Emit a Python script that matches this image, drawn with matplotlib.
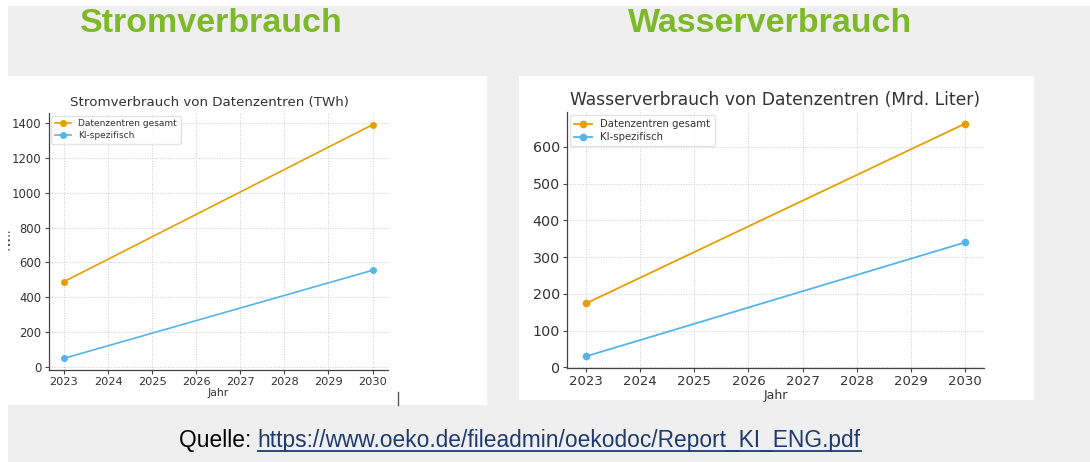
import matplotlib
matplotlib.use("Agg")
import matplotlib.pyplot as plt
from matplotlib.patches import Rectangle
from matplotlib.lines import Line2D
from matplotlib.transforms import Bbox, TransformedBbox

# - - - - data - - - -
years = [2023, 2030]
strom_gesamt = [490, 1390]
strom_ki = [50, 555]
wasser_gesamt = [174, 663]
wasser_ki = [30, 340]

series_labels = ["Datenzentren gesamt", "KI-spezifisch"]
colors = ["#E69F00", "#56B4E9"]

W, H = 1090, 462
fig = plt.figure(figsize=(W / 100, H / 100), dpi=100)
fig.patch.set_facecolor("white")

def box(x0, y0, x1, y1):
    # pixel box (top-left origin) -> figure fraction [l, b, w, h]
    return [x0 / W, 1 - y1 / H, (x1 - x0) / W, (y1 - y0) / H]

def add_rect(x0, y0, x1, y1, color):
    l, b, w, h = box(x0, y0, x1, y1)
    fig.patches.append(Rectangle((l, b), w, h, transform=fig.transFigure,
                                 facecolor=color, edgecolor="none", zorder=-5))

add_rect(8, 6, W, H, "#efefef")
add_rect(8, 76, 487, 405, "white")
add_rect(519, 76, 1034, 400, "white")

green = "#7DB928"
fig.text(211 / W, 1 - 23 / H, "Stromverbrauch", color=green, fontsize=24.5,
         fontweight="bold", family="Liberation Sans", ha="center", va="center")
fig.text(770 / W, 1 - 23 / H, "Wasserverbrauch", color=green, fontsize=24.5,
         fontweight="bold", family="Liberation Sans", ha="center", va="center")

txt = "#333333"

def style_axes(ax, tick_x, tick_y):
    for s in ["top", "right"]:
        ax.spines[s].set_visible(False)
    for s in ["left", "bottom"]:
        ax.spines[s].set_color("#444444")
        ax.spines[s].set_linewidth(0.9)
    ax.grid(True, linestyle=":", color="#cccccc", linewidth=0.7)
    ax.set_axisbelow(True)
    ax.tick_params(axis="x", labelsize=tick_x, colors="#444444", labelcolor=txt, length=3, pad=2)
    ax.tick_params(axis="y", labelsize=tick_y, colors="#444444", labelcolor=txt, length=3, pad=2)
    ax.set_xticks(range(2023, 2031))

# - - - - left: Strom - - - -
ax1 = fig.add_axes(box(48.6, 113, 388, 370))
for vals, lab, c in zip([strom_gesamt, strom_ki], series_labels, colors):
    ax1.plot(years, vals, color=c, marker="o", markersize=4, linewidth=1.2, label=lab)
style_axes(ax1, 8.2, 8.4)
ax1.set_yticks(range(0, 1401, 200))
ax1.set_title("Stromverbrauch von Datenzentren (TWh)", fontsize=9.6, color=txt, pad=5, x=0.473)
ax1.set_xlabel("Jahr", fontsize=7.8, color=txt, labelpad=1)
ax1.set_ylabel("TWh", fontsize=7.5, color=txt)
ax1.yaxis.set_label_coords(-0.105, 0.5)
lbl = ax1.yaxis.label
lbl.set_clip_box(TransformedBbox(Bbox.from_extents(8 / W, 0, 1, 1), fig.transFigure))
lbl.set_clip_on(True)
ax1.legend(loc="upper left", fontsize=6.5, frameon=True, borderaxespad=0.3,
           handlelength=1.8, labelspacing=0.3, edgecolor="#dddddd", labelcolor=txt)

# - - - - right: Wasser - - - -
ax2 = fig.add_axes(box(567, 112, 984, 368))
for vals, lab, c in zip([wasser_gesamt, wasser_ki], series_labels, colors):
    ax2.plot(years, vals, color=c, marker="o", markersize=4.5, linewidth=1.3, label=lab)
style_axes(ax2, 9.5, 10.3)
ax2.set_yticks(range(0, 601, 100))
ax2.set_title("Wasserverbrauch von Datenzentren (Mrd. Liter)", fontsize=12.3, color=txt, pad=5)
ax2.set_xlabel("Jahr", fontsize=9, color=txt, labelpad=1)
ax2.legend(loc="upper left", fontsize=7.3, frameon=True, borderaxespad=0.3,
           handlelength=1.8, labelspacing=0.3, edgecolor="#dddddd", labelcolor=txt)

# stray mark under the left chart
fig.lines.append(Line2D([398 / W, 398 / W], [1 - 392 / H, 1 - 405 / H],
                        transform=fig.transFigure, color="#555555", linewidth=1))

# - - - - source line - - - -
fs = 16.4
y_src = 1 - 447 / H
t1 = fig.text(179 / W, y_src, "Quelle: ", fontsize=fs, family="Liberation Sans",
              color="black", ha="left", va="baseline")
renderer = fig.canvas.get_renderer()
bb1 = t1.get_window_extent(renderer)
t2 = fig.text(bb1.x1 / W, y_src, "https://www.oeko.de/fileadmin/oekodoc/Report_KI_ENG.pdf",
              fontsize=fs, family="Liberation Sans", color="#1F3A6E", ha="left", va="baseline")
bb2 = t2.get_window_extent(renderer)
uy = 1 - 451 / H
fig.lines.append(Line2D([bb2.x0 / W, bb2.x1 / W], [uy, uy], transform=fig.transFigure,
                        color="#1F3A6E", linewidth=1.3))

fig.savefig("out.png", dpi=100)
